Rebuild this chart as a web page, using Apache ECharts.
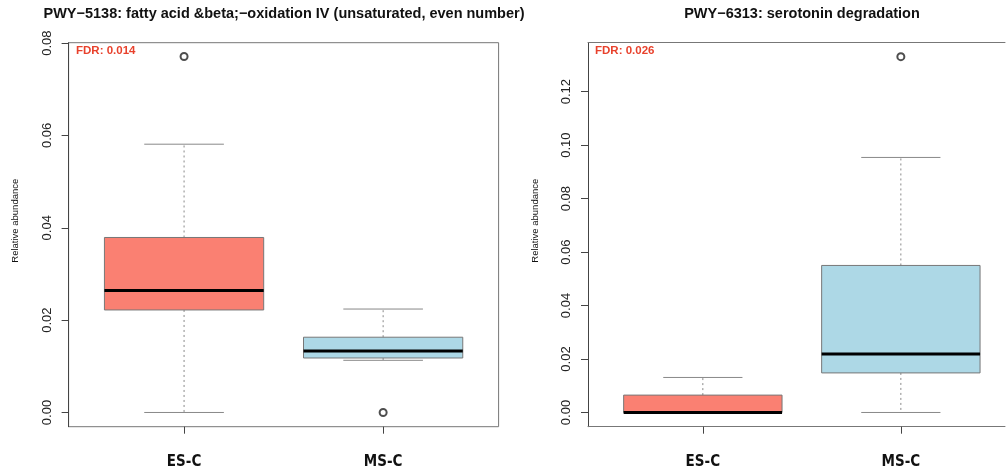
<!DOCTYPE html>
<html>
<head>
<meta charset="utf-8">
<script src="https://cdn.jsdelivr.net/npm/echarts@6/dist/echarts.min.js"></script>
<style>html,body{margin:0;padding:0;background:#fff}#c{width:1006px;height:470px}</style>
</head>
<body>
<div id="c"></div>
<script>
// ---- data ----
const categories = ['ES-C', 'MS-C'];
const titles = ['PWY\u22125138: fatty acid &beta;\u2212oxidation IV (unsaturated, even number)', 'PWY\u22126313: serotonin degradation'];
const fdrLabels = ['FDR: 0.014', 'FDR: 0.026'];
// [min, Q1, median, Q3, max]
const leftBoxes = [
  [0.0000, 0.0222, 0.0264, 0.0379, 0.0581],
  [0.0113, 0.0118, 0.0133, 0.0163, 0.0224]
];
const leftOutliers = [[1, 0.0771], [2, 0.0000]];
const rightBoxes = [
  [0.0000, 0.0000, 0.0000, 0.0065, 0.0131],
  [0.0000, 0.0148, 0.0219, 0.0550, 0.0954]
];
const rightOutliers = [[2, 0.1331]];
const leftTicks = [0, 0.02, 0.04, 0.06, 0.08];
const rightTicks = [0, 0.02, 0.04, 0.06, 0.08, 0.10, 0.12];
const leftRange = [-0.00308, 0.08008];
const rightRange = [-0.00532, 0.13832];
const leftXRange = [0.42, 2.58];
const rightXRange = [0.42, 2.526]; // panel is cut by the picture's right edge
const fills = ['#FA8072', '#ADD8E6'];

// ---- chart ----
const FONT = '"Liberation Sans",Arial,sans-serif';
const chart = echarts.init(document.getElementById('c'), null, {renderer: 'canvas'});
function xAxisFor(i, rng, showLine) {
  return {
    type: 'value', gridIndex: i, min: rng[0], max: rng[1],
    axisLine: {show: showLine, onZero: false, lineStyle: {color: '#777', width: 1}}, splitLine: {show: false},
    axisTick: {show: true, customValues: [1, 2], length: 7, lineStyle: {color: '#444'}},
    axisLabel: {show: true, customValues: [1, 2], margin: 28,
      formatter: v => categories[Math.round(v) - 1] || '',
      fontFamily: '"Liberation Sans Narrow","DejaVu Sans Condensed","Liberation Sans",sans-serif',
      fontWeight: 'bold', fontSize: 15, color: '#111'}
  };
}
function yAxisFor(i, rng, ticks) {
  return {
    type: 'value', gridIndex: i, min: rng[0], max: rng[1],
    name: 'Relative abundance', nameLocation: 'middle', nameGap: 48, nameRotate: 90,
    nameTextStyle: {fontFamily: FONT, fontSize: 9.5, color: '#111', padding: [0, 0, 0, 28]},
    axisLine: {show: true, lineStyle: {color: '#444', width: 1}}, splitLine: {show: false},
    axisTick: {show: true, customValues: ticks, length: 7, lineStyle: {color: '#444'}},
    axisLabel: {show: true, customValues: ticks, rotate: 90, margin: 15,
      formatter: v => v.toFixed(2),
      fontFamily: FONT, fontSize: 13, color: '#222'}
  };
}
function boxSeries(i, boxes) {
  const data = boxes.map((b, k) => [k + 1].concat(b));
  return {
    type: 'custom', xAxisIndex: i, yAxisIndex: i,
    data: data,
    encode: {x: 0, y: [1, 2, 3, 4, 5]},
    renderItem: function (params, api) {
      const x = api.value(0), mn = api.value(1), q1 = api.value(2), md = api.value(3), q3 = api.value(4), mx = api.value(5);
      const pL = api.coord([x - 0.4, q3]), pR = api.coord([x + 0.4, q1]);
      const cL = api.coord([x - 0.2, mx]), cR = api.coord([x + 0.2, mn]);
      const c = api.coord([x, md]);
      const yMin = api.coord([x, mn])[1], yMax = api.coord([x, mx])[1];
      const wStyle = {stroke: '#888', lineWidth: 1, lineDash: [2, 3]};
      const capStyle = {stroke: '#888', lineWidth: 1};
      const ci = params.dataIndex;
      return {
        type: 'group', children: [
          {type: 'line', shape: {x1: c[0], y1: pL[1], x2: c[0], y2: yMax}, style: wStyle},
          {type: 'line', shape: {x1: c[0], y1: pR[1], x2: c[0], y2: yMin}, style: wStyle},
          {type: 'line', shape: {x1: cL[0], y1: yMax, x2: cR[0], y2: yMax}, style: capStyle},
          {type: 'line', shape: {x1: cL[0], y1: yMin, x2: cR[0], y2: yMin}, style: capStyle},
          {type: 'rect', shape: {x: pL[0], y: pL[1], width: pR[0] - pL[0], height: pR[1] - pL[1]},
            style: {fill: fills[ci], stroke: '#777', lineWidth: 1}},
          {type: 'line', shape: {x1: pL[0], y1: c[1], x2: pR[0], y2: c[1]}, style: {stroke: '#000', lineWidth: 3}}
        ]
      };
    },
    silent: true, clip: false, z: 2
  };
}
function outlierSeries(i, pts) {
  return {
    type: 'scatter', xAxisIndex: i, yAxisIndex: i, data: pts,
    symbol: 'emptyCircle', symbolSize: 7,
    itemStyle: {color: '#222', borderColor: '#222', borderWidth: 1},
    silent: true, z: 3
  };
}
const titleStyle = {fontFamily: FONT, fontWeight: 'bold', fontSize: 14.5, color: '#111'};
const fdrStyle = {fontFamily: FONT, fontWeight: 'bold', fontSize: 11.5, color: '#E8412C'};
const option = {
  animation: false,
  backgroundColor: '#fff',
  title: [
    {text: titles[0], left: 284, top: 6, padding: 0, textAlign: 'center', textStyle: titleStyle},
    {text: titles[1], left: 802, top: 6, padding: 0, textAlign: 'center', textStyle: titleStyle},
    {text: fdrLabels[0], left: 76, top: 45, padding: 0, textStyle: fdrStyle},
    {text: fdrLabels[1], left: 595, top: 45, padding: 0, textStyle: fdrStyle}
  ],
  grid: [
    {left: 68.6, top: 42.7, width: 430, height: 384, show: true, borderColor: '#777', borderWidth: 1, backgroundColor: 'transparent'},
    {left: 588, top: 42.7, width: 417, height: 384, show: false}
  ],
  xAxis: [
    xAxisFor(0, leftXRange, false),
    xAxisFor(1, rightXRange, true),
    {type: 'value', gridIndex: 1, position: 'top', min: rightXRange[0], max: rightXRange[1],
      axisLine: {show: true, onZero: false, lineStyle: {color: '#777', width: 1}},
      axisTick: {show: false}, axisLabel: {show: false}, splitLine: {show: false}}
  ],
  yAxis: [yAxisFor(0, leftRange, leftTicks), yAxisFor(1, rightRange, rightTicks)],
  series: [
    boxSeries(0, leftBoxes), outlierSeries(0, leftOutliers),
    boxSeries(1, rightBoxes), outlierSeries(1, rightOutliers)
  ]
};
chart.setOption(option);
</script>
</body>
</html>
